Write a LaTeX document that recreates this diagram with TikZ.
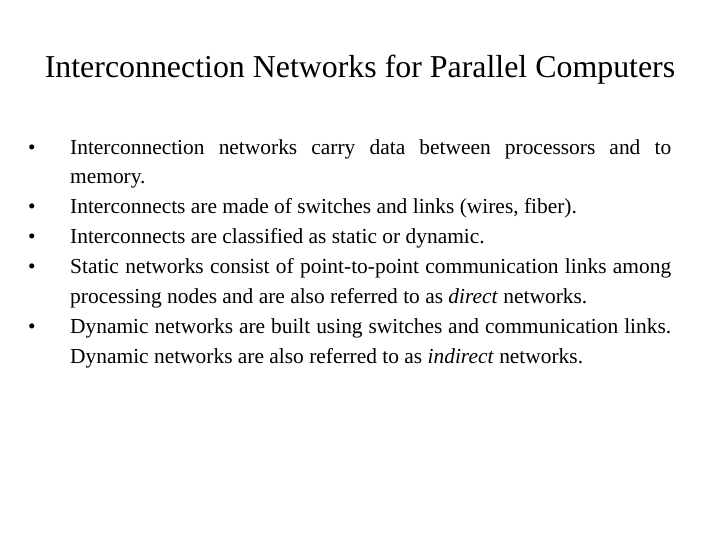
\documentclass[tikz,border=0pt]{standalone}
\usepackage{fontspec}
\setmainfont{Liberation Serif}
\usetikzlibrary{positioning}
\newcommand{\bulletitem}{\par\hangindent=42bp\hangafter=1\noindent\makebox[42bp][l]{\textbullet}}
\tikzset{
  slidetitle/.style={font=\fontsize{32}{36}\selectfont, inner sep=0pt},
  bodytext/.style={font=\fontsize{21.5}{30}\selectfont, text width=643bp, align=justify, inner sep=0pt, anchor=north west}
}
\begin{document}
\begin{tikzpicture}[x=1bp,y=-1bp]
    % Page
    \useasboundingbox (0,0) rectangle (720,540);
    \fill[white] (0,0) rectangle (720,540);

    % Title
    \node[slidetitle] (title) at (360,70) {Interconnection Networks for Parallel Computers};

    % Bullets
    \node[bodytext] (bullets) at (28,124) {\hyphenpenalty=10000\exhyphenpenalty=10000\tolerance=9999
      \bulletitem Interconnection networks carry data between processors and to memory.
      \bulletitem Interconnects are made of switches and links (wires, fiber).
      \bulletitem Interconnects are classified as static or dynamic.
      \bulletitem Static networks consist of point-to-point communication links among processing nodes and are also referred to as \textit{direct} networks.
      \bulletitem Dynamic networks are built using switches and communication links. Dynamic networks are also referred to as \textit{indirect} networks.\par};
\end{tikzpicture}
\end{document}
